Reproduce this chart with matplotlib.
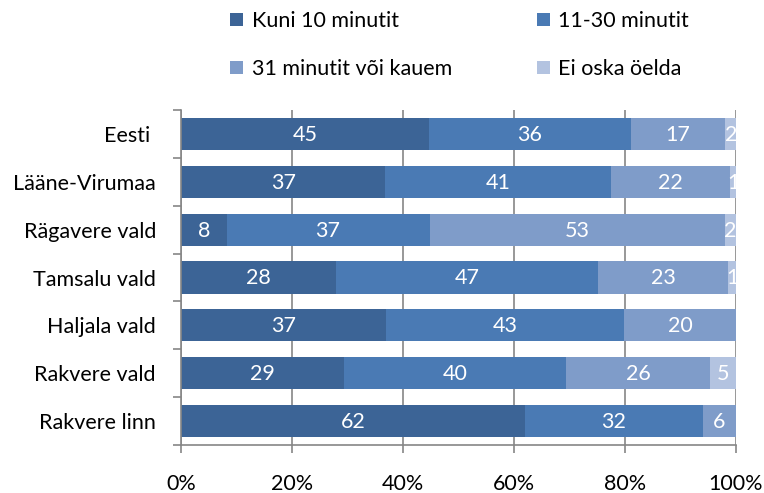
"""
Travel time to work/school by region, 100% stacked horizontal bars.
"""

import numpy as np
import matplotlib
matplotlib.use("Agg")
import matplotlib.pyplot as plt

# categories top to bottom
regions = ["Eesti ", "Lääne-Virumaa", "Rägavere vald", "Tamsalu vald",
           "Haljala vald", "Rakvere vald", "Rakvere linn"]

series_names = ["Kuni 10 minutit", "11-30 minutit", "31 minutit või kauem", "Ei oska öelda"]

# shares in percent, labels are the rounded values
kuni_10 = [44.6, 36.8, 8.2, 28.0, 37.0, 29.4, 61.9]
min_11_30 = [36.4, 40.6, 36.6, 47.2, 42.8, 40.0, 32.1]
min_31 = [17.1, 21.6, 53.2, 23.4, 20.2, 26.0, 6.0]
ei_oska = [1.9, 1.0, 2.0, 1.4, 0.0, 4.6, 0.0]

colors = ["#3C6496", "#4A7AB4", "#7F9CC9", "#B3C3E0"]

x_ticks = [0, 20, 40, 60, 80, 100]
x_tick_labels = ["0%", "20%", "40%", "60%", "80%", "100%"]

FS = 15.5


def main():
    plt.rcParams["font.family"] = ["Lato", "DejaVu Sans"]
    fig = plt.figure(figsize=(7.64, 4.93), dpi=100)
    ax = fig.add_axes([181 / 764, 48 / 493, 555 / 764, 335 / 493])

    data = np.array([kuni_10, min_11_30, min_31, ei_oska], dtype=float)
    # 100% stacked: normalize each row
    data = data / data.sum(axis=0) * 100

    y = np.arange(len(regions))
    left = np.zeros(len(regions))
    handles = []
    for i, (name, col) in enumerate(zip(series_names, colors)):
        bars = ax.barh(y, data[i], left=left, height=0.67, color=col,
                       label=name, zorder=2)
        handles.append(bars)
        for yy, l, w in zip(y, left, data[i]):
            if w > 0:
                ax.text(l + w / 2, yy + 0.02, f"{w:.0f}", ha="center", va="center",
                        color="white", fontsize=FS, zorder=3)
        left += data[i]

    ax.set_xlim(0, 100)
    ax.set_ylim(len(regions) - 0.5, -0.5)

    grey = "#868686"
    ax.set_xticks(x_ticks)
    ax.set_xticklabels(x_tick_labels, fontsize=FS)
    ax.xaxis.grid(True, color=grey, linewidth=1.2, zorder=0)
    ax.set_axisbelow(True)
    ax.tick_params(axis="x", length=6, width=1.2, color=grey, pad=15)

    # y ticks between categories, labels at centers
    ax.set_yticks(np.arange(-0.5, len(regions), 1.0))
    ax.set_yticklabels([])
    ax.set_yticks(y, minor=True)
    ax.set_yticklabels(regions, minor=True, fontsize=FS)
    ax.tick_params(axis="y", which="major", length=6, width=1.2, color=grey)
    ax.tick_params(axis="y", which="minor", length=0, pad=18)

    for side in ["top", "right"]:
        ax.spines[side].set_visible(False)
    for side in ["left", "bottom"]:
        ax.spines[side].set_color(grey)
        ax.spines[side].set_linewidth(1.2)

    order = [0, 2, 1, 3]
    fig.legend([handles[i] for i in order], [series_names[i] for i in order],
               ncol=2, loc="upper left", bbox_to_anchor=(230 / 764, 1 - 11 / 493),
               frameon=False, fontsize=FS, borderpad=0, handlelength=0.6,
               handleheight=0.6, handletextpad=0.4, labelspacing=1.3,
               columnspacing=3.95, borderaxespad=0)

    fig.savefig("out.png", dpi=100)


if __name__ == "__main__":
    main()
